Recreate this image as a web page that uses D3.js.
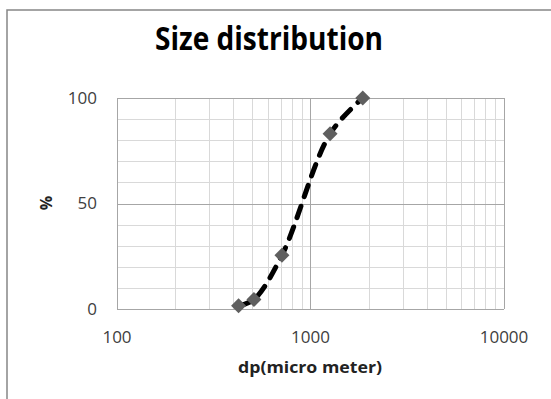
<!DOCTYPE html>
<html>
<head>
<meta charset="utf-8">
<script src="https://cdn.jsdelivr.net/npm/d3@7.9.0/dist/d3.min.js"></script>
<style>
  body { margin: 0; background: #fff; }
  svg { display: block; font-family: "Open Sans", sans-serif; }
</style>
</head>
<body>
<svg id="chart" width="551" height="399"></svg>
<script>
// particle size (micro meter) vs cumulative %
const sizes = [425, 510, 712, 1262, 1862];
const cumulative = [1.5, 4.5, 25.5, 83, 100];
const xTicks = [100, 1000, 10000];
const yTicks = [0, 50, 100];

const svg = d3.select("#chart");
const plotLeft = 117, plotRight = 504, plotTop = 98, plotBottom = 309;

// outer chart border (right/bottom edges run off the picture)
svg.append("rect")
  .attr("x", 7).attr("y", 10)
  .attr("width", 700).attr("height", 600)
  .attr("fill", "none")
  .attr("stroke", "#868686")
  .attr("stroke-width", 1.5);

const x = d3.scaleLog().domain([100, 10000]).range([plotLeft, plotRight]);
const y = d3.scaleLinear().domain([0, 100]).range([plotBottom, plotTop]);

// gridlines: minor first, then major
const minorX = [];
for (let dec = 100; dec < 10000; dec *= 10) {
  for (let k = 2; k <= 9; k++) minorX.push(dec * k);
}
const minorY = d3.range(10, 100, 10).filter(v => v !== 50);

const grid = svg.append("g");
grid.selectAll("line.mx").data(minorX).join("line")
  .attr("x1", d => Math.round(x(d)) + 0.5).attr("x2", d => Math.round(x(d)) + 0.5)
  .attr("y1", plotTop).attr("y2", plotBottom)
  .attr("stroke", "#d9d9d9");
grid.selectAll("line.my").data(minorY).join("line")
  .attr("y1", d => Math.round(y(d)) + 0.5).attr("y2", d => Math.round(y(d)) + 0.5)
  .attr("x1", plotLeft).attr("x2", plotRight)
  .attr("stroke", "#d9d9d9");
grid.selectAll("line.Mx").data(xTicks).join("line")
  .attr("x1", d => Math.round(x(d)) + 0.5).attr("x2", d => Math.round(x(d)) + 0.5)
  .attr("y1", plotTop).attr("y2", plotBottom)
  .attr("stroke", "#a6a6a6");
grid.selectAll("line.My").data(yTicks).join("line")
  .attr("y1", d => Math.round(y(d)) + 0.5).attr("y2", d => Math.round(y(d)) + 0.5)
  .attr("x1", plotLeft).attr("x2", plotRight)
  .attr("stroke", "#a6a6a6");

// tick labels
svg.append("g").selectAll("text").data(yTicks).join("text")
  .attr("x", 97).attr("y", d => y(d))
  .attr("dy", "0.35em")
  .attr("text-anchor", "end")
  .attr("font-size", 17)
  .attr("fill", "#404040")
  .text(d => d);

svg.append("g").selectAll("text").data(xTicks).join("text")
  .attr("x", d => x(d)).attr("y", 337)
  .attr("dy", "0.35em")
  .attr("text-anchor", "middle")
  .attr("font-size", 17)
  .attr("fill", "#404040")
  .text(d => d);

// smoothed dashed line then markers
const pts = sizes.map((s, i) => [x(s), y(cumulative[i])]);
svg.append("path")
  .attr("d", d3.line().curve(d3.curveCatmullRom.alpha(0.5))(pts))
  .attr("fill", "none")
  .attr("stroke", "#000")
  .attr("stroke-width", 5)
  .attr("stroke-dasharray", "12,10")
  .attr("stroke-linecap", "round");

svg.append("g").selectAll("path").data(pts).join("path")
  .attr("transform", d => `translate(${d[0]},${d[1]})`)
  .attr("d", "M0,-7.5L7.5,0L0,7.5L-7.5,0Z")
  .attr("fill", "#5f5f5f");

// titles
svg.append("text")
  .attr("x", 269).attr("y", 50)
  .attr("text-anchor", "middle")
  .attr("font-size", 32)
  .attr("font-weight", "bold")
  .attr("textLength", 228)
  .attr("lengthAdjust", "spacingAndGlyphs")
  .text("Size distribution");

svg.append("text")
  .attr("x", 310).attr("y", 373)
  .attr("text-anchor", "middle")
  .attr("font-size", 16)
  .attr("font-weight", "bold")
  .attr("fill", "#222")
  .attr("textLength", 144)
  .attr("lengthAdjust", "spacingAndGlyphs")
  .text("dp(micro meter)");

svg.append("text")
  .attr("transform", "translate(52,203) rotate(-90)")
  .attr("text-anchor", "middle")
  .attr("font-size", 16)
  .attr("font-weight", "bold")
  .attr("fill", "#222")
  .text("%");
</script>
</body>
</html>
